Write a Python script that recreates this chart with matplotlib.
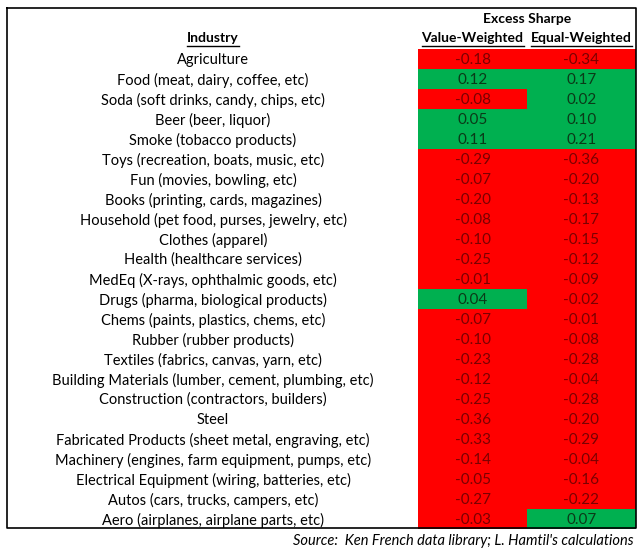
import matplotlib
matplotlib.use("Agg")
import matplotlib.pyplot as plt

plt.rcParams['font.family'] = ['Lato', 'DejaVu Sans']

# data
industries = [
    'Agriculture',
    'Food (meat, dairy, coffee, etc)',
    'Soda (soft drinks, candy, chips, etc)',
    'Beer (beer, liquor)',
    'Smoke (tobacco products)',
    'Toys (recreation, boats, music, etc)',
    'Fun (movies, bowling, etc)',
    'Books (printing, cards, magazines)',
    'Household (pet food, purses, jewelry, etc)',
    'Clothes (apparel)',
    'Health (healthcare services)',
    'MedEq (X-rays, ophthalmic goods, etc)',
    'Drugs (pharma, biological products)',
    'Chems (paints, plastics, chems, etc)',
    'Rubber (rubber products)',
    'Textiles (fabrics, canvas, yarn, etc)',
    'Building Materials (lumber, cement, plumbing, etc)',
    'Construction (contractors, builders)',
    'Steel',
    'Fabricated Products (sheet metal, engraving, etc)',
    'Machinery (engines, farm equipment, pumps, etc)',
    'Electrical Equipment (wiring, batteries, etc)',
    'Autos (cars, trucks, campers, etc)',
    'Aero (airplanes, airplane parts, etc)',
]
value_weighted = [-0.18, 0.12, -0.08, 0.05, 0.11, -0.29, -0.07, -0.20, -0.08, -0.10,
                  -0.25, -0.01, 0.04, -0.07, -0.10, -0.23, -0.12, -0.25, -0.36, -0.33,
                  -0.14, -0.05, -0.27, -0.03]
equal_weighted = [-0.34, 0.17, 0.02, 0.10, 0.21, -0.36, -0.20, -0.13, -0.17, -0.15,
                  -0.12, -0.09, -0.02, -0.01, -0.08, -0.28, -0.04, -0.28, -0.20, -0.29,
                  -0.04, -0.16, -0.22, 0.07]
columns = ['Value-Weighted', 'Equal-Weighted']

RED, GREEN = '#ff0000', '#00b050'
RED_TXT, GREEN_TXT = '#7a0000', '#0b3a18'

W, H = 642, 550
fig = plt.figure(figsize=(W / 100, H / 100), dpi=100)
ax = fig.add_axes([0, 0, 1, 1])
ax.set_xlim(0, W)
ax.set_ylim(H, 0)
ax.axis('off')

row0, row_h = 49, 20
col_left = [418, 527]
col_w = 109
label_x = 213
fs = 10.5
fs_head = 10.0
fs_num = 11

underlined = []

for j, vals in enumerate([value_weighted, equal_weighted]):
    rows = [row0 + row_h * i + row_h / 2 for i in range(len(vals))]
    colors = [GREEN if v > 0 else RED for v in vals]
    ax.barh(rows, col_w, left=col_left[j], height=row_h, color=colors, linewidth=0)
    cx = col_left[j] + col_w / 2
    for y, v in zip(rows, vals):
        ax.text(cx, y + 1, f'{v:.2f}', ha='center', va='center', fontsize=fs_num,
                color=GREEN_TXT if v > 0 else RED_TXT)
    t = ax.text(cx, 38, columns[j], ha='center', va='center', fontsize=fs_head,
                fontweight='bold')
    underlined.append(t)

for i, name in enumerate(industries):
    ax.text(label_x, row0 + row_h * i + row_h / 2 + 1, name, ha='center', va='center',
            fontsize=fs)

t = ax.text(label_x, 38, 'Industry', ha='center', va='center', fontsize=fs_head,
            fontweight='bold')
underlined.append(t)
ax.text((col_left[0] + col_left[1] + col_w) / 2, 19, 'Excess Sharpe', ha='center',
        va='center', fontsize=fs_head, fontweight='bold')

# outer border
ax.plot([6.5, 635.5, 635.5, 6.5, 6.5], [8, 8, 528, 528, 8], color='black', lw=1.2)

ax.text(634, 541, "Source:  Ken French data library; L. Hamtil's calculations",
        ha='right', va='center', fontsize=fs, style='italic')

# underline headers
fig.canvas.draw()
r = fig.canvas.get_renderer()
inv = ax.transData.inverted()
for t in underlined:
    bb = t.get_window_extent(r)
    (x0, y0), (x1, y1) = inv.transform([[bb.x0, bb.y0], [bb.x1, bb.y1]])
    ax.plot([x0, x1], [46, 46], color='black', lw=1.0)

fig.savefig('out.png', dpi=100)
